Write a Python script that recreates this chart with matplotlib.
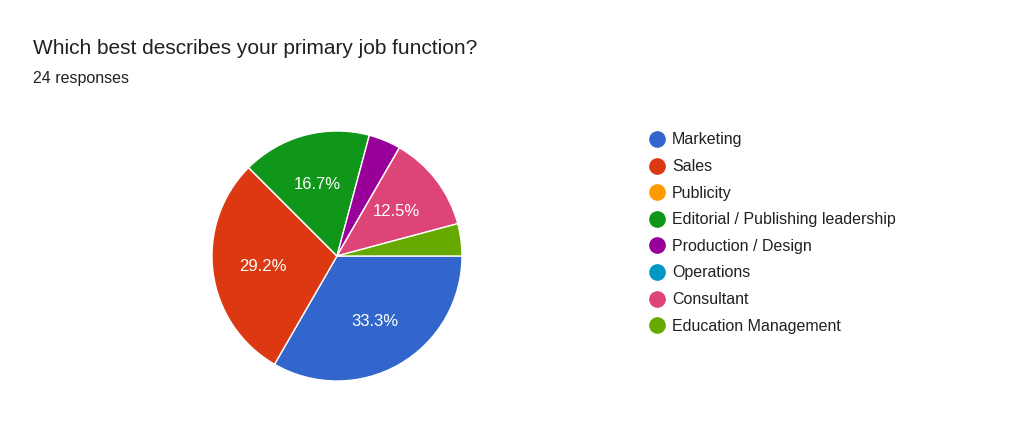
import matplotlib.pyplot as plt
from matplotlib.lines import Line2D

labels = ["Marketing", "Sales", "Publicity", "Editorial / Publishing leadership",
          "Production / Design", "Operations", "Consultant", "Education Management"]
counts = [8, 7, 0, 4, 1, 0, 3, 1]
colors = ["#3366cc", "#dc3912", "#ff9900", "#109618",
          "#990099", "#0099c6", "#dd4477", "#66aa00"]

plt.rcParams["font.family"] = ["Liberation Sans", "DejaVu Sans"]

fig = plt.figure(figsize=(10.24, 4.31), dpi=100)
fig.text(33 / 1024, 1 - 48 / 431, "Which best describes your primary job function?",
         fontsize=15, color="#202124", va="center")
fig.text(33 / 1024, 1 - 78 / 431, "24 responses", fontsize=11.5, color="#202124", va="center")

ax = fig.add_axes([212 / 1024, 1 - 382 / 431, 250 / 1024, 250 / 431])


def pct(p):
    return f"{p:.1f}%" if p > 5 else ""


wedges, texts, autotexts = ax.pie(
    counts, colors=colors, startangle=0, counterclock=False,
    autopct=pct, pctdistance=0.6,
    wedgeprops=dict(edgecolor="white", linewidth=1),
    textprops=dict(color="white", fontsize=12))
ax.set_xlim(-1, 1)
ax.set_ylim(-1, 1)
ax.set_aspect("equal")

# legend
for i, (lab, col) in enumerate(zip(labels, colors)):
    y = 1 - (140 + i * 26.6) / 431
    fig.add_artist(Line2D([657 / 1024], [y], marker="o", markersize=11,
                          color=col, linestyle="none", transform=fig.transFigure))
    fig.text(672 / 1024, y, lab, fontsize=11.5, color="#202124", va="center")

fig.savefig("out.png", dpi=100)
